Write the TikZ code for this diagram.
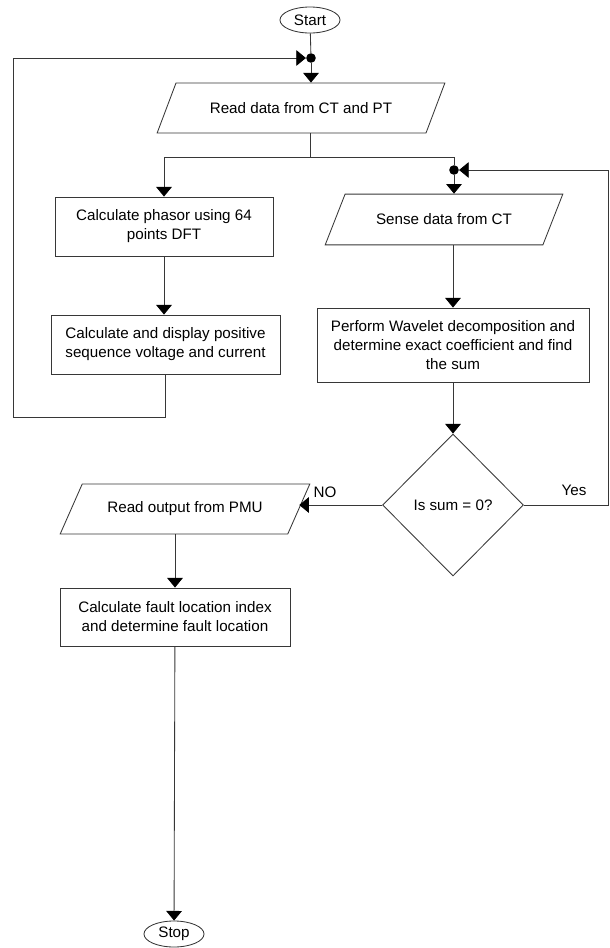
\documentclass[tikz,border=0pt]{standalone}
\usepackage{fontspec}
\setmainfont{Liberation Sans}
\usetikzlibrary{arrows.meta,positioning,shapes.geometric}
\definecolor{FlInk}{RGB}{55,55,55}
\tikzset{
  fl/box/.style={
    draw=FlInk,
    line width=0.6pt,
    fill=white,
    align=center,
    text=black,
    inner sep=2pt,
    font=\fontsize{10.8pt}{13.5pt}\selectfont
  },
  fl/io/.style={
    trapezium,
    trapezium left angle=45,
    trapezium right angle=135,
    trapezium stretches=true,
    draw=FlInk,
    line width=0.6pt,
    fill=white,
    align=center,
    text=black,
    inner sep=1pt,
    font=\fontsize{10.8pt}{13.5pt}\selectfont
  },
  fl/term/.style={
    ellipse,
    draw=FlInk,
    line width=0.6pt,
    fill=white,
    inner sep=0pt,
    minimum width=1.5cm,
    minimum height=0.65cm,
    font=\fontsize{10.8pt}{13.5pt}\selectfont
  },
  fl/decide/.style={
    diamond,
    draw=FlInk,
    line width=0.6pt,
    fill=white,
    inner sep=0pt,
    minimum width=3.52cm,
    minimum height=3.55cm,
    font=\fontsize{10.8pt}{13.5pt}\selectfont
  },
  fl/dot/.style={circle, fill=black, inner sep=0pt, minimum size=0.24cm},
  fl/arrow/.style={-{Triangle[width=3.9mm,length=2.4mm,fill=black,color=black]}, line width=0.6pt, draw=FlInk},
  fl/line/.style={line width=0.6pt, draw=FlInk},
  fl/label/.style={font=\fontsize{10.8pt}{13.5pt}\selectfont, inner sep=1pt}
}
\begin{document}
\begin{tikzpicture}[x=0.025cm,y=-0.025cm]
  \useasboundingbox[fill=white] (0,0) rectangle (610,948);

  \node[fl/term] (start) at (310,20) {Start};
  \node[fl/dot] (jtop) at (311,58) {};
  \node[fl/io,minimum width=7.2cm,minimum height=1.25cm] (readct) at (301,108) {Read data from CT and PT};
  \coordinate (split) at (310,157);
  \node[fl/box,minimum width=5.45cm,minimum height=1.475cm] (phasor) at (164,226.5) {Calculate phasor using 64\\points DFT};
  \node[fl/box,minimum width=5.72cm,minimum height=1.475cm] (posseq) at (165.5,344.5) {Calculate and display positive\\sequence voltage and current};
  \node[fl/dot] (jright) at (454,170) {};
  \node[fl/io,minimum width=5.95cm,minimum height=1.27cm] (sense) at (444,219.5) {Sense data from CT};
  \node[fl/box,minimum width=6.8cm,minimum height=1.85cm] (wavelet) at (453,345) {Perform Wavelet decomposition and\\determine exact coefficient and find\\the sum};
  \node[fl/decide] (issum) at (453,505) {Is sum = 0?};
  \node[fl/io,minimum width=6.25cm,minimum height=1.25cm] (pmu) at (185,509) {Read output from PMU};
  \node[fl/box,minimum width=5.75cm,minimum height=1.45cm] (faultloc) at (175,617) {Calculate fault location index\\and determine fault location};
  \node[fl/term] (stop) at (174,934) {Stop};

  \coordinate (loopbl) at (13,417);
  \coordinate (looptl) at (13,58);
  \coordinate (yesbr) at (608,505);
  \coordinate (yestr) at (608,170);

  \draw[fl/line] (start) -- (jtop);
  \draw[fl/arrow] (jtop) -- (readct.north -| jtop);
  \draw[fl/line] (readct.south -| split) -- (split);
  \draw[fl/arrow] (split) -| (phasor.north);
  \draw[fl/line] (split) -| (jright);
  \draw[fl/arrow] (jright) -- (sense.north -| jright);
  \draw[fl/arrow] (phasor) -- (posseq.north -| phasor);
  \draw[fl/line] (posseq.south) |- (loopbl) -- (looptl);
  \draw[fl/arrow] (looptl) -- (jtop);
  \draw[fl/arrow] (sense.south -| wavelet) -- (wavelet.north);
  \draw[fl/arrow] (wavelet) -- (issum.north);
  \draw[fl/line] (issum.east) -- (yesbr) -- (yestr);
  \draw[fl/arrow] (yestr) -- (jright);
  \draw[fl/arrow] (issum.west) -- (pmu.east |- issum.west);
  \draw[fl/arrow] (pmu.south -| faultloc) -- (faultloc.north);
  \draw[fl/arrow] (faultloc) -- (stop);

  \node[fl/label] (yeslbl) at (574,490) {Yes};
  \node[fl/label] (nolbl) at (325,492) {NO};
\end{tikzpicture}
\end{document}
